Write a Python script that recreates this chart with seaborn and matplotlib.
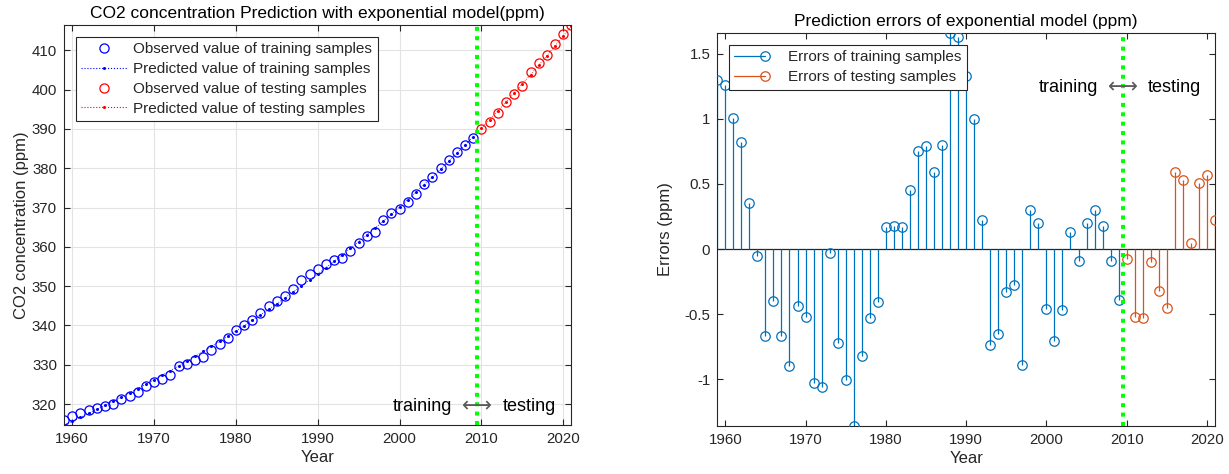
import numpy as np
import pandas as pd
import matplotlib
matplotlib.use("Agg")
import matplotlib.pyplot as plt
from matplotlib.lines import Line2D
from matplotlib.legend_handler import HandlerBase
import seaborn as sns

# ---------------- data ----------------
years_train = list(range(1959, 2010))
years_test = list(range(2010, 2022))

obs_train = [315.98, 316.91, 317.64, 318.45, 318.99, 319.62, 320.04, 321.37, 322.18, 323.05,
             324.62, 325.68, 326.32, 327.46, 329.68, 330.19, 331.13, 332.03, 333.84, 335.41,
             336.84, 338.76, 340.12, 341.48, 343.15, 344.87, 346.35, 347.61, 349.31, 351.69,
             353.20, 354.45, 355.70, 356.54, 357.21, 358.96, 360.97, 362.74, 363.88, 366.84,
             368.54, 369.71, 371.32, 373.45, 375.98, 377.70, 379.98, 382.09, 384.02, 385.83,
             387.64]
pred_train = [314.68, 315.65, 316.63, 317.63, 318.64, 319.67, 320.71, 321.77, 322.85, 323.95,
              325.06, 326.20, 327.35, 328.52, 329.71, 330.91, 332.14, 333.39, 334.66, 335.94,
              337.25, 338.59, 339.94, 341.31, 342.70, 344.12, 345.56, 347.02, 348.51, 350.03,
              351.57, 353.12, 354.70, 356.32, 357.95, 359.61, 361.30, 363.02, 364.77, 366.54,
              368.34, 370.17, 372.03, 373.92, 375.85, 377.79, 379.78, 381.79, 383.84, 385.92,
              388.03]
obs_test = [390.10, 391.85, 394.06, 396.74, 398.81, 401.01, 404.41, 406.76, 408.72, 411.66,
            414.24, 416.45]
pred_test = [390.18, 392.37, 394.59, 396.84, 399.13, 401.46, 403.82, 406.23, 408.67, 411.15,
             413.67, 416.23]

err_train = [1.30, 1.26, 1.01, 0.82, 0.35, -0.05, -0.67, -0.40, -0.67, -0.90,
             -0.44, -0.52, -1.03, -1.06, -0.03, -0.72, -1.01, -1.36, -0.82, -0.53,
             -0.41, 0.17, 0.18, 0.17, 0.45, 0.75, 0.79, 0.59, 0.80, 1.66,
             1.63, 1.33, 1.00, 0.22, -0.74, -0.65, -0.33, -0.28, -0.89, 0.30,
             0.20, -0.46, -0.71, -0.47, 0.13, -0.09, 0.20, 0.30, 0.18, -0.09,
             -0.39]
err_test = [-0.08, -0.52, -0.53, -0.10, -0.32, -0.45, 0.59, 0.53, 0.05, 0.51, 0.57, 0.22]

split_year = 2009.5
left_yticks = [320, 330, 340, 350, 360, 370, 380, 390, 400, 410]
xticks = [1960, 1970, 1980, 1990, 2000, 2010, 2020]
right_yticks = [-1, -0.5, 0, 0.5, 1, 1.5]
right_yticklabels = ["-1", "-0.5", "0", "0.5", "1", "1.5"]

df_train = pd.DataFrame({"year": years_train, "obs": obs_train, "pred": pred_train, "err": err_train})
df_test = pd.DataFrame({"year": years_test, "obs": obs_test, "pred": pred_test, "err": err_test})

# ---------------- style ----------------
sns.set_theme(style="white")
plt.rcParams["font.family"] = ["Liberation Sans", "DejaVu Sans"]
AX = "#262626"
plt.rcParams.update({
    "axes.edgecolor": AX, "axes.linewidth": 0.8,
    "xtick.color": AX, "ytick.color": AX,
    "xtick.labelcolor": AX, "ytick.labelcolor": AX,
    "xtick.direction": "in", "ytick.direction": "in",
    "xtick.major.size": 4, "ytick.major.size": 4,
    "xtick.major.width": 0.8, "ytick.major.width": 0.8,
    "xtick.labelsize": 10.8, "ytick.labelsize": 10.8,
    "xtick.top": True, "ytick.right": True,
    "xtick.bottom": True, "ytick.left": True,
})

fig = plt.figure(figsize=(12.29, 4.74), dpi=100)
ax1 = fig.add_axes([0.0521, 0.1034, 0.4129, 0.8439])
ax2 = fig.add_axes([0.5836, 0.1013, 0.4050, 0.8291])

BLUE = (0, 0, 1)
RED = (1, 0, 0)
GREEN = (0, 1, 0)
MS_O = 6.6


def split_label(ax, x, y, fs):
    ax.annotate("training", (x, y), xytext=(-18, 0), textcoords="offset points",
                ha="right", va="center", fontsize=fs, color="black", zorder=6)
    ax.annotate("testing", (x, y), xytext=(18, 0), textcoords="offset points",
                ha="left", va="center", fontsize=fs, color="black", zorder=6)
    ax.annotate("\u27f7", (x, y), xytext=(0, 0), textcoords="offset points",
                ha="center", va="center", fontsize=fs + 2, color="#5a5a5a", zorder=6,
                family="DejaVu Sans")


# ---------------- left panel ----------------
sns.lineplot(data=df_train, x="year", y="obs", ax=ax1, estimator=None, sort=False,
             linestyle="", marker="o", markersize=MS_O, markerfacecolor="none",
             markeredgecolor=BLUE, markeredgewidth=0.9, color=BLUE)
sns.lineplot(data=df_train, x="year", y="pred", ax=ax1, estimator=None, sort=False,
             linestyle=":", linewidth=0.6, marker="o", markersize=2.2,
             markeredgewidth=0, color=BLUE)
sns.lineplot(data=df_test, x="year", y="obs", ax=ax1, estimator=None, sort=False,
             linestyle="", marker="o", markersize=MS_O, markerfacecolor="none",
             markeredgecolor=RED, markeredgewidth=0.9, color=RED)
sns.lineplot(data=df_test, x="year", y="pred", ax=ax1, estimator=None, sort=False,
             linestyle=":", linewidth=0.6, marker="o", markersize=2.2,
             markeredgewidth=0, color=RED)

ymin1 = min(min(pred_train), min(obs_train))
ymax1 = max(max(obs_test), max(pred_test))
ax1.set_xlim(years_train[0], years_test[-1])
ax1.set_ylim(ymin1, ymax1)
ax1.axvline(split_year, color=GREEN, linewidth=2.9, linestyle=(0, (1, 1.33)),
            dash_capstyle="butt", zorder=5)
ax1.set_xticks(xticks)
ax1.set_yticks(left_yticks)
ax1.grid(True, color="#e3e3e3", linewidth=0.8)
ax1.set_axisbelow(True)
ax1.set_xlabel("Year", fontsize=12, color=AX, labelpad=3)
ax1.set_ylabel("CO2 concentration (ppm)", fontsize=12, color=AX, labelpad=2)
ax1.set_title("CO2 concentration Prediction with exponential model(ppm)",
              fontsize=12.5, color="black", pad=5)
split_label(ax1, split_year, 319.3, 13)

leg_handles1 = [
    Line2D([0], [0], linestyle="", marker="o", markersize=MS_O, markerfacecolor="none",
           markeredgecolor=BLUE, markeredgewidth=0.9),
    Line2D([0], [0], linestyle=":", linewidth=0.8, marker="o", markersize=2.2,
           markeredgewidth=0, color=BLUE),
    Line2D([0], [0], linestyle="", marker="o", markersize=MS_O, markerfacecolor="none",
           markeredgecolor=RED, markeredgewidth=0.9),
    Line2D([0], [0], linestyle=":", linewidth=0.8, marker="o", markersize=2.2,
           markeredgewidth=0, color=RED),
]
leg1 = ax1.legend(leg_handles1,
                  ["Observed value of training samples", "Predicted value of training samples",
                   "Observed value of testing samples", "Predicted value of testing samples"],
                  loc="upper left", bbox_to_anchor=(76 / 1229, 1 - 37 / 474),
                  bbox_transform=fig.transFigure, borderaxespad=0, fontsize=11,
                  frameon=True, fancybox=False, edgecolor=AX, framealpha=1,
                  handlelength=3.0, handletextpad=0.4, labelspacing=0.38,
                  borderpad=0.35, numpoints=1)
leg1.get_frame().set_linewidth(0.8)

# ---------------- right panel ----------------
C_TR = (0, 0.447, 0.741)
C_TE = (0.85, 0.325, 0.098)
MS_S = 6.8

ax2.axhline(0, color=AX, linewidth=0.9, zorder=1)
ax2.vlines(df_train["year"], 0, df_train["err"], color=C_TR, linewidth=0.9, zorder=2)
ax2.vlines(df_test["year"], 0, df_test["err"], color=C_TE, linewidth=0.9, zorder=2)
sns.lineplot(data=df_train, x="year", y="err", ax=ax2, estimator=None, sort=False,
             linestyle="", marker="o", markersize=MS_S, markerfacecolor="none",
             markeredgecolor=C_TR, markeredgewidth=0.9, color=C_TR, zorder=3)
sns.lineplot(data=df_test, x="year", y="err", ax=ax2, estimator=None, sort=False,
             linestyle="", marker="o", markersize=MS_S, markerfacecolor="none",
             markeredgecolor=C_TE, markeredgewidth=0.9, color=C_TE, zorder=3)

ax2.set_xlim(years_train[0], years_test[-1])
ax2.set_ylim(min(err_train + err_test), max(err_train + err_test))
ax2.axvline(split_year, color=GREEN, linewidth=2.9, linestyle=(0, (1, 1.33)),
            dash_capstyle="butt", zorder=5)
ax2.set_xticks(xticks)
ax2.set_yticks(right_yticks)
ax2.set_yticklabels(right_yticklabels)
ax2.grid(False)
ax2.set_xlabel("Year", fontsize=12, color=AX, labelpad=3)
ax2.set_ylabel("Errors (ppm)", fontsize=12, color=AX, labelpad=8)
ax2.set_title("Prediction errors of exponential model (ppm)", fontsize=12.5,
              color="black", pad=5)
split_label(ax2, split_year, 1.244, 13)


class StemHandler(HandlerBase):
    def create_artists(self, legend, orig_handle, xdescent, ydescent, width, height,
                       fontsize, trans):
        c = orig_handle.get_color()
        y = height / 2 - ydescent
        ln = Line2D([-xdescent, width - xdescent - 3], [y, y], color=c, linewidth=0.9,
                    transform=trans)
        mk = Line2D([width - xdescent - 3], [y], linestyle="", marker="o",
                    markersize=MS_S, markerfacecolor="none", markeredgecolor=c,
                    markeredgewidth=0.9, transform=trans)
        return [ln, mk]


stem_tr = Line2D([0], [0], color=C_TR)
stem_te = Line2D([0], [0], color=C_TE)
leg2 = ax2.legend([stem_tr, stem_te], ["Errors of training samples", "Errors of testing samples"],
                  handler_map={Line2D: StemHandler()},
                  loc="upper left", bbox_to_anchor=(729 / 1229, 1 - 45 / 474),
                  bbox_transform=fig.transFigure, borderaxespad=0, fontsize=11,
                  frameon=True, fancybox=False, edgecolor=AX, framealpha=1,
                  handlelength=2.3, handletextpad=1.2, labelspacing=0.38,
                  borderpad=0.35)
leg2.get_frame().set_linewidth(0.8)

for ax in (ax1, ax2):
    for s in ax.spines.values():
        s.set_visible(True)
        s.set_color(AX)
        s.set_linewidth(0.8)
    ax.tick_params(axis="both", which="both", direction="in", top=True, right=True,
                   pad=5)

fig.savefig("out.png", dpi=100)
